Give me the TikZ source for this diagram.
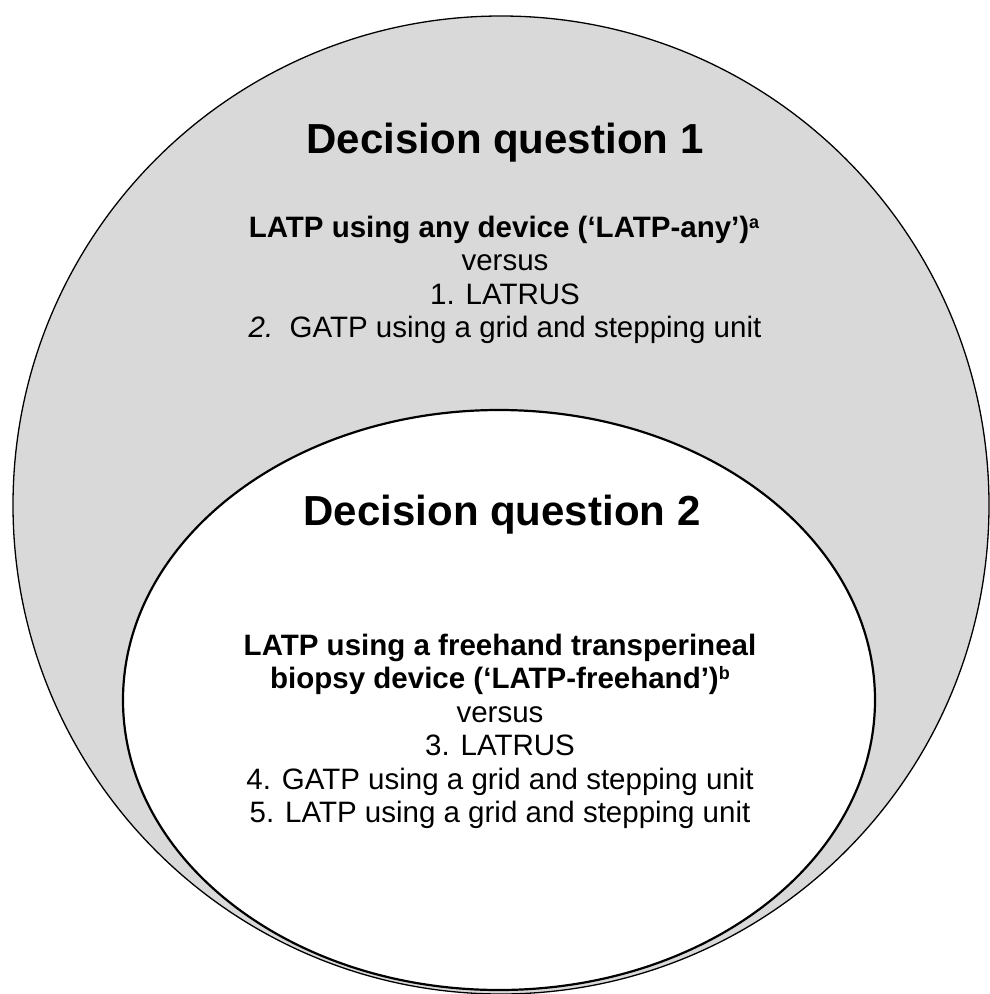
\documentclass[tikz,border=0pt]{standalone}
\usepackage{fontspec}
\setmainfont{Liberation Sans}
\definecolor{ringgray}{HTML}{D9D9D9}
\newcommand{\notemark}[1]{\raisebox{9pt}{\fontsize{18}{18}\selectfont\bfseries #1}}
\begin{document}
\begin{tikzpicture}[x=1pt,y=-1pt,
  heading/.style={font=\fontsize{42}{48}\selectfont\bfseries, anchor=base, inner sep=0pt},
  bodytext/.style={font=\fontsize{29.5}{34.5}\selectfont, anchor=base, inner sep=0pt},
  boldtext/.style={bodytext, font=\fontsize{29.5}{34.5}\selectfont\bfseries}]
\useasboundingbox (0,0) rectangle (989,994);
% outer region: decision question 1
\draw[fill=ringgray, line width=1.3pt] (501,505) ellipse [x radius=488, y radius=489];
% inner region: decision question 2
\draw[fill=white, line width=2.2pt] (499,700) ellipse [x radius=376, y radius=290];

% decision question 1
\node[heading] (h1) at (505,153) {Decision question 1};
\node[boldtext] (q1a) at (504,237) {LATP using any device (‘LATP-any’)\notemark{a}};
\node[bodytext] (q1b) at (505,270.5) {versus};
\node[bodytext] (q1c) at (505,304) {1. LATRUS};
\node[bodytext] (q1d) at (505,337.5) {\textit{2.}\ \ GATP using a grid and stepping unit};

% decision question 2
\node[heading] (h2) at (502,525) {Decision question 2};
\node[boldtext] (q2a) at (500,655) {LATP using a freehand transperineal};
\node[boldtext] (q2b) at (500,688.5) {biopsy device (‘LATP-freehand’)\notemark{b}};
\node[bodytext] (q2c) at (500,722) {versus};
\node[bodytext] (q2d) at (500,755.5) {3. LATRUS};
\node[bodytext] (q2e) at (500,789) {4. GATP using a grid and stepping unit};
\node[bodytext] (q2f) at (500,822.5) {5. LATP using a grid and stepping unit};
\end{tikzpicture}
\end{document}
